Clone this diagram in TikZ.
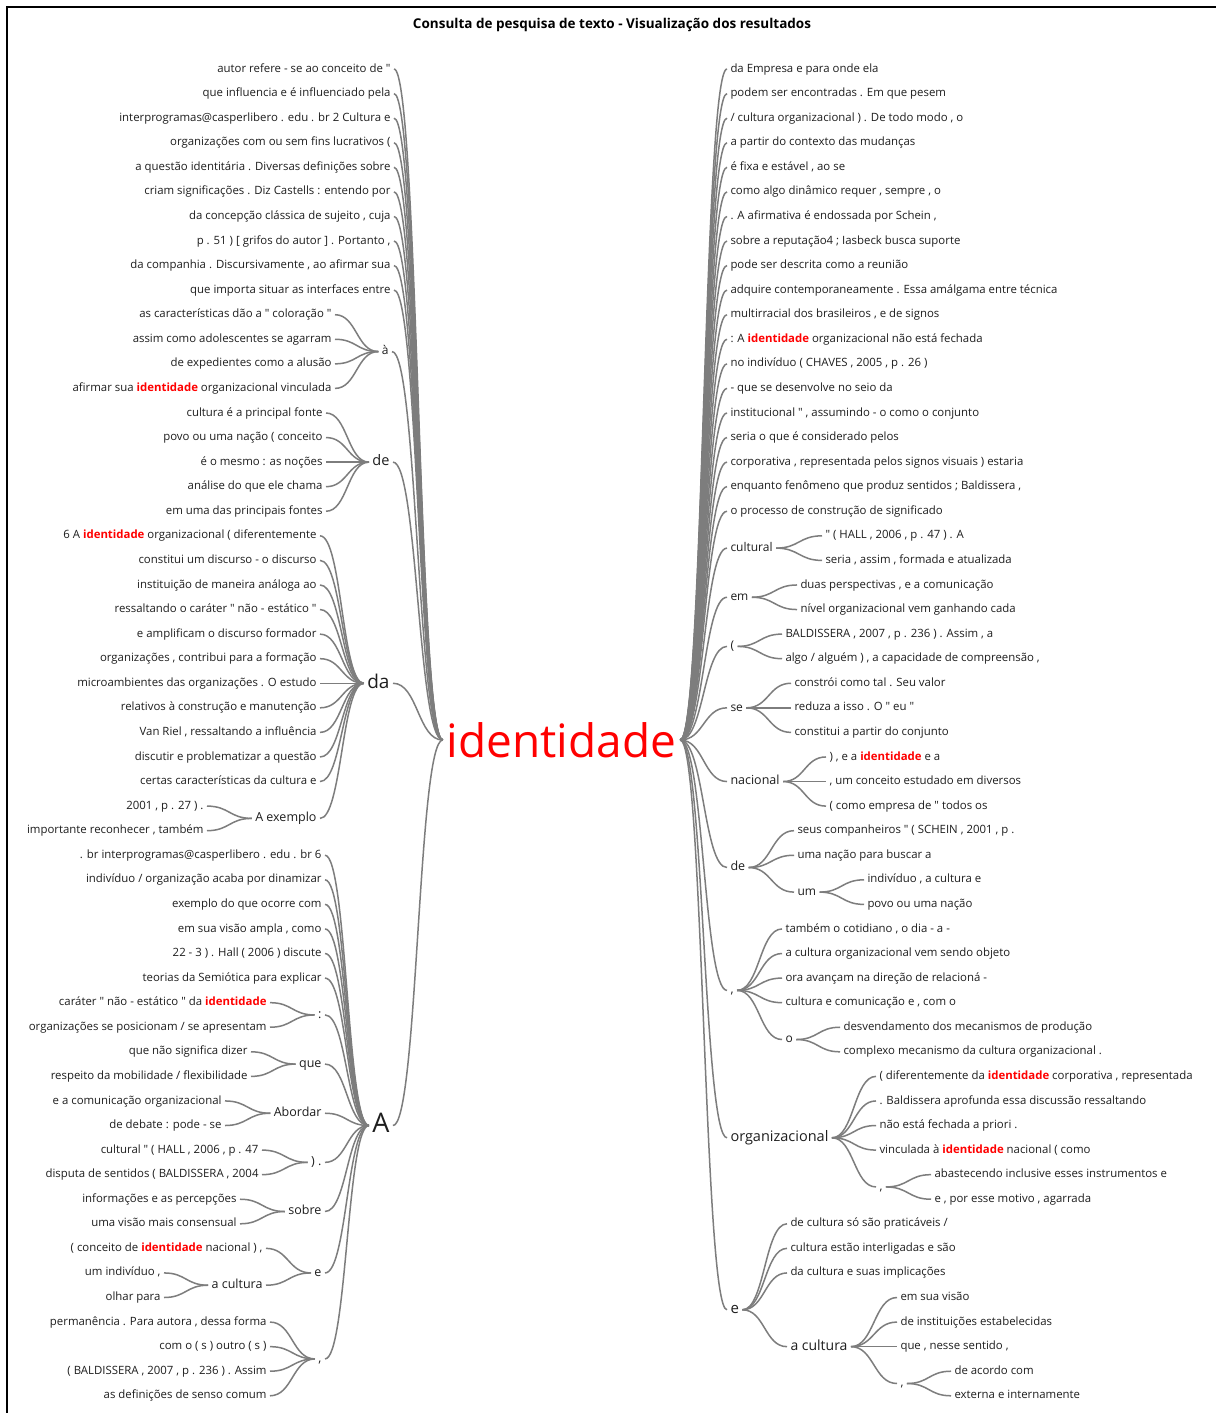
\documentclass[tikz,border=0pt]{standalone}
\usepackage{fontspec}
\setmainfont{Open Sans}[Ligatures=TeXOff]
\usetikzlibrary{calc}
\definecolor{txt}{RGB}{30,30,30}
\definecolor{ln}{RGB}{125,125,125}
\definecolor{hi}{RGB}{255,0,0}
\newcommand\hl[1]{{\bfseries\color{hi}#1}}
\newcommand\ry[1]{69+24.57*(#1)}
\newcommand\LN[5]{\node[#1,anchor=east] (#2) at (#3,{\ry{#4}}) {#5};}
\newcommand\RN[5]{\node[#1,anchor=west] (#2) at (#3,{\ry{#4}}) {#5};}
\newcommand\lk[2]{\path ($(#1)!0.5!(#2)$) coordinate (mdpt); \draw[cn] (#1) .. controls (mdpt |- #1) and (mdpt |- #2) .. (#2);}
\tikzset{
 base/.style={inner sep=0pt, outer sep=3.5pt, text=txt},
 lf/.style={base, font=\fontsize{11.4}{13}\selectfont, text height=8.4pt, text depth=2.3pt},
 m12/.style={base, font=\fontsize{12}{14}\selectfont, text height=8.8pt, text depth=2.4pt},
 m125/.style={base, font=\fontsize{12.5}{14}\selectfont, text height=9.2pt, text depth=2.5pt},
 m14/.style={base, font=\fontsize{14}{16}\selectfont, text height=10.2pt, text depth=2.8pt},
 m145/.style={base, font=\fontsize{14.5}{17}\selectfont, text height=10.6pt, text depth=2.9pt},
 m15/.style={base, font=\fontsize{15}{17}\selectfont, text height=11pt, text depth=3pt},
 m19/.style={base, font=\fontsize{19}{21}\selectfont, text height=13.9pt, text depth=3.8pt},
 m27/.style={base, font=\fontsize{27}{30}\selectfont, text height=19.7pt, text depth=5.4pt},
 cn/.style={draw=ln, line width=1.5pt},
}
\begin{document}
\begin{tikzpicture}[x=1pt,y=-1pt]
\useasboundingbox (0,0) rectangle (1216,1413);
\fill[white] (0,0) rectangle (1216,1413);
\draw[line width=1.6pt] (7,1413) -- (7,7) -- (1216,7);
\node[font=\bfseries\fontsize{13.5}{16}\selectfont, text=black] (title) at (612,25) {Consulta de pesquisa de texto - Visualização dos resultados};
\node[inner sep=0pt, outer sep=4pt, text=hi, font=\fontsize{46}{50}\selectfont] (root) at (561.5,740) {identidade};

% ---------------- LEFT ----------------
\LN{lf}{la0}{394}{0}{autor refere - se ao conceito de "}
\LN{lf}{la1}{394}{1}{que influencia e é influenciado pela}
\LN{lf}{la2}{394}{2}{interprogramas@casperlibero . edu . br 2 Cultura e}
\LN{lf}{la3}{394}{3}{organizações com ou sem fins lucrativos (}
\LN{lf}{la4}{394}{4}{a questão identitária . Diversas definições sobre}
\LN{lf}{la5}{394}{5}{criam significações . Diz Castells : entendo por}
\LN{lf}{la6}{394}{6}{da concepção clássica de sujeito , cuja}
\LN{lf}{la7}{394}{7}{p . 51 ) [ grifos do autor ] . Portanto ,}
\LN{lf}{la8}{394}{8}{da companhia . Discursivamente , ao afirmar sua}
\LN{lf}{la9}{394}{9}{que importa situar as interfaces entre}
\foreach \i in {0,...,9} {\lk{la\i.east}{root.west}}

\LN{m12}{lagr}{392}{11.5}{à}
\LN{lf}{lagr1}{335}{10}{as características dão a " coloração "}
\LN{lf}{lagr2}{335}{11}{assim como adolescentes se agarram}
\LN{lf}{lagr3}{335}{12}{de expedientes como a alusão}
\LN{lf}{lagr4}{335}{13}{afirmar sua \hl{identidade} organizacional vinculada}
\foreach \i in {1,...,4} {\lk{lagr\i.east}{lagr.west}}
\lk{lagr.east}{root.west}

\LN{m145}{lde}{393}{16}{de}
\LN{lf}{lde1}{326}{14}{cultura é a principal fonte}
\LN{lf}{lde2}{326}{15}{povo ou uma nação ( conceito}
\LN{lf}{lde3}{326}{16}{é o mesmo : as noções}
\LN{lf}{lde4}{326}{17}{análise do que ele chama}
\LN{lf}{lde5}{326}{18}{em uma das principais fontes}
\foreach \i in {1,...,5} {\lk{lde\i.east}{lde.west}}
\lk{lde.east}{root.west}

\LN{m19}{lda}{393}{25}{da}
\LN{lf}{lda1}{320}{19}{6 A \hl{identidade} organizacional ( diferentemente}
\LN{lf}{lda2}{320}{20}{constitui um discurso - o discurso}
\LN{lf}{lda3}{320}{21}{instituição de maneira análoga ao}
\LN{lf}{lda4}{320}{22}{ressaltando o caráter " não - estático "}
\LN{lf}{lda5}{320}{23}{e amplificam o discurso formador}
\LN{lf}{lda6}{320}{24}{organizações , contribui para a formação}
\LN{lf}{lda7}{320}{25}{microambientes das organizações . O estudo}
\LN{lf}{lda8}{320}{26}{relativos à construção e manutenção}
\LN{lf}{lda9}{320}{27}{Van Riel , ressaltando a influência}
\LN{lf}{lda10}{320}{28}{discutir e problematizar a questão}
\LN{lf}{lda11}{320}{29}{certas características da cultura e}
\foreach \i in {1,...,11} {\lk{lda\i.east}{lda.west}}
\LN{m125}{lax}{320}{30.5}{A exemplo}
\LN{lf}{lax1}{207}{30}{2001 , p . 27 ) .}
\LN{lf}{lax2}{207}{31}{importante reconhecer , também}
\lk{lax1.east}{lax.west}
\lk{lax2.east}{lax.west}
\lk{lax.east}{lda.west}
\lk{lda.east}{root.west}

\LN{m27}{lA}{393}{43}{A}
\LN{lf}{lA1}{325}{32}{. br interprogramas@casperlibero . edu . br 6}
\LN{lf}{lA2}{325}{33}{indivíduo / organização acaba por dinamizar}
\LN{lf}{lA3}{325}{34}{exemplo do que ocorre com}
\LN{lf}{lA4}{325}{35}{em sua visão ampla , como}
\LN{lf}{lA5}{325}{36}{22 - 3 ) . Hall ( 2006 ) discute}
\LN{lf}{lA6}{325}{37}{teorias da Semiótica para explicar}
\foreach \i in {1,...,6} {\lk{lA\i.east}{lA.west}}

\LN{m125}{lcol}{325}{38.5}{:}
\LN{lf}{lcol1}{270}{38}{caráter " não - estático " da \hl{identidade}}
\LN{lf}{lcol2}{270}{39}{organizações se posicionam / se apresentam}
\lk{lcol1.east}{lcol.west}
\lk{lcol2.east}{lcol.west}
\lk{lcol.east}{lA.west}

\LN{m125}{lque}{325}{40.5}{que}
\LN{lf}{lque1}{251}{40}{que não significa dizer}
\LN{lf}{lque2}{251}{41}{respeito da mobilidade / flexibilidade}
\lk{lque1.east}{lque.west}
\lk{lque2.east}{lque.west}
\lk{lque.east}{lA.west}

\LN{m125}{lab}{325}{42.5}{Abordar}
\LN{lf}{lab1}{225}{42}{e a comunicação organizacional}
\LN{lf}{lab2}{225}{43}{de debate : pode - se}
\lk{lab1.east}{lab.west}
\lk{lab2.east}{lab.west}
\lk{lab.east}{lA.west}

\LN{m125}{lpar}{325}{44.5}{) .}
\LN{lf}{lpar1}{262}{44}{cultural " ( HALL , 2006 , p . 47}
\LN{lf}{lpar2}{262}{45}{disputa de sentidos ( BALDISSERA , 2004}
\lk{lpar1.east}{lpar.west}
\lk{lpar2.east}{lpar.west}
\lk{lpar.east}{lA.west}

\LN{m125}{lsob}{325}{46.5}{sobre}
\LN{lf}{lsob1}{240}{46}{informações e as percepções}
\LN{lf}{lsob2}{240}{47}{uma visão mais consensual}
\lk{lsob1.east}{lsob.west}
\lk{lsob2.east}{lsob.west}
\lk{lsob.east}{lA.west}

\LN{m125}{le}{325}{49}{e}
\LN{lf}{le1}{266}{48}{( conceito de \hl{identidade} nacional ) ,}
\LN{m125}{lac}{266}{49.5}{a cultura}
\LN{lf}{lac1}{164}{49}{um indivíduo ,}
\LN{lf}{lac2}{164}{50}{olhar para}
\lk{lac1.east}{lac.west}
\lk{lac2.east}{lac.west}
\lk{le1.east}{le.west}
\lk{lac.east}{le.west}
\lk{le.east}{lA.west}

\LN{m125}{lcom}{325}{52.5}{,}
\LN{lf}{lcom1}{270}{51}{permanência . Para autora , dessa forma}
\LN{lf}{lcom2}{270}{52}{com o ( s ) outro ( s )}
\LN{lf}{lcom3}{270}{53}{( BALDISSERA , 2007 , p . 236 ) . Assim}
\LN{lf}{lcom4}{270}{54}{as definições de senso comum}
\foreach \i in {1,...,4} {\lk{lcom\i.east}{lcom.west}}
\lk{lcom.east}{lA.west}
\lk{lA.east}{root.west}

% ---------------- RIGHT ----------------
\RN{lf}{ra0}{727}{0}{da Empresa e para onde ela}
\RN{lf}{ra1}{727}{1}{podem ser encontradas . Em que pesem}
\RN{lf}{ra2}{727}{2}{/ cultura organizacional ) . De todo modo , o}
\RN{lf}{ra3}{727}{3}{a partir do contexto das mudanças}
\RN{lf}{ra4}{727}{4}{é fixa e estável , ao se}
\RN{lf}{ra5}{727}{5}{como algo dinâmico requer , sempre , o}
\RN{lf}{ra6}{727}{6}{. A afirmativa é endossada por Schein ,}
\RN{lf}{ra7}{727}{7}{sobre a reputação4 ; Iasbeck busca suporte}
\RN{lf}{ra8}{727}{8}{pode ser descrita como a reunião}
\RN{lf}{ra9}{727}{9}{adquire contemporaneamente . Essa amálgama entre técnica}
\RN{lf}{ra10}{727}{10}{multirracial dos brasileiros , e de signos}
\RN{lf}{ra11}{727}{11}{: A \hl{identidade} organizacional não está fechada}
\RN{lf}{ra12}{727}{12}{no indivíduo ( CHAVES , 2005 , p . 26 )}
\RN{lf}{ra13}{727}{13}{- que se desenvolve no seio da}
\RN{lf}{ra14}{727}{14}{institucional " , assumindo - o como o conjunto}
\RN{lf}{ra15}{727}{15}{seria o que é considerado pelos}
\RN{lf}{ra16}{727}{16}{corporativa , representada pelos signos visuais ) estaria}
\RN{lf}{ra17}{727}{17}{enquanto fenômeno que produz sentidos ; Baldissera ,}
\RN{lf}{ra18}{727}{18}{o processo de construção de significado}
\foreach \i in {0,...,18} {\lk{root.east}{ra\i.west}}

\RN{m12}{rcul}{727}{19.5}{cultural}
\RN{lf}{rcul1}{822}{19}{" ( HALL , 2006 , p . 47 ) . A}
\RN{lf}{rcul2}{822}{20}{seria , assim , formada e atualizada}
\lk{rcul.east}{rcul1.west}
\lk{rcul.east}{rcul2.west}
\lk{root.east}{rcul.west}

\RN{m12}{rem}{727}{21.5}{em}
\RN{lf}{rem1}{797}{21}{duas perspectivas , e a comunicação}
\RN{lf}{rem2}{797}{22}{nível organizacional vem ganhando cada}
\lk{rem.east}{rem1.west}
\lk{rem.east}{rem2.west}
\lk{root.east}{rem.west}

\RN{m12}{rpar}{727}{23.5}{(}
\RN{lf}{rpar1}{782}{23}{BALDISSERA , 2007 , p . 236 ) . Assim , a}
\RN{lf}{rpar2}{782}{24}{algo / alguém ) , a capacidade de compreensão ,}
\lk{rpar.east}{rpar1.west}
\lk{rpar.east}{rpar2.west}
\lk{root.east}{rpar.west}

\RN{m12}{rse}{727}{26}{se}
\RN{lf}{rse1}{791}{25}{constrói como tal . Seu valor}
\RN{lf}{rse2}{791}{26}{reduza a isso . O " eu "}
\RN{lf}{rse3}{791}{27}{constitui a partir do conjunto}
\foreach \i in {1,2,3} {\lk{rse.east}{rse\i.west}}
\lk{root.east}{rse.west}

\RN{m125}{rnac}{727}{29}{nacional}
\RN{lf}{rnac1}{826}{28}{) , e a \hl{identidade} e a}
\RN{lf}{rnac2}{826}{29}{, um conceito estudado em diversos}
\RN{lf}{rnac3}{826}{30}{( como empresa de " todos os}
\foreach \i in {1,2,3} {\lk{rnac.east}{rnac\i.west}}
\lk{root.east}{rnac.west}

\RN{m125}{rde}{727}{32.5}{de}
\RN{lf}{rde1}{794}{31}{seus companheiros " ( SCHEIN , 2001 , p .}
\RN{lf}{rde2}{794}{32}{uma nação para buscar a}
\RN{m12}{rum}{794}{33.5}{um}
\RN{lf}{rum1}{864}{33}{indivíduo , a cultura e}
\RN{lf}{rum2}{864}{34}{povo ou uma nação}
\lk{rum.east}{rum1.west}
\lk{rum.east}{rum2.west}
\lk{rde.east}{rde1.west}
\lk{rde.east}{rde2.west}
\lk{rde.east}{rum.west}
\lk{root.east}{rde.west}

\RN{m125}{rcom}{727}{37.5}{,}
\RN{lf}{rcom1}{782}{35}{também o cotidiano , o dia - a -}
\RN{lf}{rcom2}{782}{36}{a cultura organizacional vem sendo objeto}
\RN{lf}{rcom3}{782}{37}{ora avançam na direção de relacioná -}
\RN{lf}{rcom4}{782}{38}{cultura e comunicação e , com o}
\RN{m12}{ro}{782}{39.5}{o}
\RN{lf}{ro1}{840}{39}{desvendamento dos mecanismos de produção}
\RN{lf}{ro2}{840}{40}{complexo mecanismo da cultura organizacional .}
\lk{ro.east}{ro1.west}
\lk{ro.east}{ro2.west}
\foreach \i in {1,...,4} {\lk{rcom.east}{rcom\i.west}}
\lk{rcom.east}{ro.west}
\lk{root.east}{rcom.west}

\RN{m145}{rorg}{727}{43.5}{organizacional}
\RN{lf}{rorg1}{876}{41}{( diferentemente da \hl{identidade} corporativa , representada}
\RN{lf}{rorg2}{876}{42}{. Baldissera aprofunda essa discussão ressaltando}
\RN{lf}{rorg3}{876}{43}{não está fechada a priori .}
\RN{lf}{rorg4}{876}{44}{vinculada à \hl{identidade} nacional ( como}
\RN{m12}{rorgc}{876}{45.5}{,}
\RN{lf}{rorgc1}{931}{45}{abastecendo inclusive esses instrumentos e}
\RN{lf}{rorgc2}{931}{46}{e , por esse motivo , agarrada}
\lk{rorgc.east}{rorgc1.west}
\lk{rorgc.east}{rorgc2.west}
\foreach \i in {1,...,4} {\lk{rorg.east}{rorg\i.west}}
\lk{rorg.east}{rorgc.west}
\lk{root.east}{rorg.west}

\RN{m15}{re}{727}{50.5}{e}
\RN{lf}{re1}{787}{47}{de cultura só são praticáveis /}
\RN{lf}{re2}{787}{48}{cultura estão interligadas e são}
\RN{lf}{re3}{787}{49}{da cultura e suas implicações}
\RN{m14}{rac}{787}{52}{a cultura}
\RN{lf}{rac1}{897}{50}{em sua visão}
\RN{lf}{rac2}{897}{51}{de instituições estabelecidas}
\RN{lf}{rac3}{897}{52}{que , nesse sentido ,}
\RN{m12}{racc}{897}{53.5}{,}
\RN{lf}{racc1}{951}{53}{de acordo com}
\RN{lf}{racc2}{951}{54}{externa e internamente}
\lk{racc.east}{racc1.west}
\lk{racc.east}{racc2.west}
\foreach \i in {1,2,3} {\lk{rac.east}{rac\i.west}}
\lk{rac.east}{racc.west}
\foreach \i in {1,2,3} {\lk{re.east}{re\i.west}}
\lk{re.east}{rac.west}
\lk{root.east}{re.west}
\end{tikzpicture}
\end{document}
